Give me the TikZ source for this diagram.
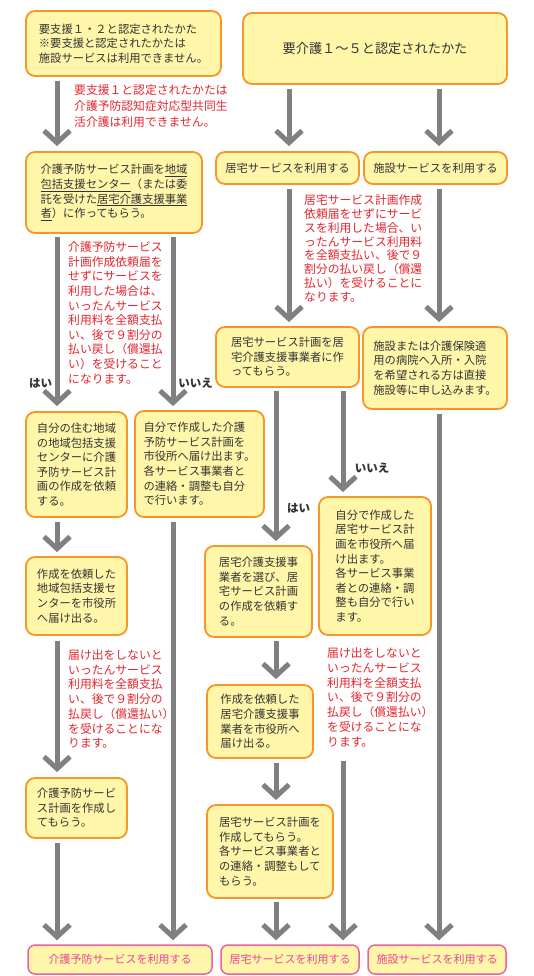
\documentclass[tikz,border=0pt]{standalone}
\usepackage{fontspec}
\setmainfont{Noto Sans CJK JP}
\usetikzlibrary{arrows.meta}
\definecolor{boxfill}{RGB}{255,246,170}
\definecolor{boxline}{RGB}{247,150,40}
\definecolor{pinkline}{RGB}{236,96,160}
\definecolor{pinktext}{RGB}{230,70,150}
\definecolor{redtext}{RGB}{228,38,45}
\definecolor{arrgray}{RGB}{128,128,128}
\definecolor{darktext}{RGB}{51,51,51}
\tikzset{
 box/.style={draw=boxline, line width=1.8pt, fill=boxfill, rounded corners=9pt, align=left, inner sep=0pt, text=darktext, font=\fontsize{11.3}{14.6}\selectfont},
 pinkbox/.style={draw=pinkline, line width=1.5pt, fill=boxfill, rounded corners=7pt, text=pinktext, font=\fontsize{11}{13}\selectfont, inner sep=0pt},
 note/.style={text=redtext, align=left, inner sep=0pt, anchor=north west},
 yn/.style={text=darktext, font=\bfseries\fontsize{11.5}{13}\selectfont, inner sep=0pt},
 arr/.style={draw=arrgray, line width=5pt, -{Straight Barb[length=12pt,width=26pt]}},
}
\begin{document}
\begin{tikzpicture}[x=1pt,y=-1pt]
\fill[white] (0,0) rectangle (534,976);
\useasboundingbox (0,0) rectangle (534,976);
% columns
\coordinate (c1) at (57,0);
\coordinate (c2) at (173,0);
\coordinate (c3) at (276,0);
\coordinate (c4) at (289,0);
\coordinate (c5) at (343,0);
\coordinate (c6) at (439,0);
% boxes
\node[box, minimum width=195pt, minimum height=65pt] (A) at (123.5,43.5) {要支援１・２と認定されたかた\\※要支援と認定されたかたは\\施設サービスは利用できません。};
\node[box, minimum width=264pt, minimum height=71pt, font=\fontsize{13.2}{16}\selectfont] (B) at (375,48.5) {要介護１～５と認定されたかた};
\node[box, minimum width=176pt, minimum height=81pt] (C) at (114,192.5) {介護予防サービス計画を\underline{地域}\\\underline{包括支援センター}（または委\\託を受けた\underline{居宅介護支援事業}\\\underline{者}）に作ってもらう。};
\node[box, minimum width=143pt, minimum height=32pt] (D) at (287.5,168) {居宅サービスを利用する};
\node[box, minimum width=143pt, minimum height=32pt] (E) at (435.5,168) {施設サービスを利用する};
\node[box, minimum width=143pt, minimum height=60pt] (F) at (287.5,357) {居宅サービス計画を居\\宅介護支援事業者に作\\ってもらう。};
\node[box, minimum width=144pt, minimum height=82pt] (G) at (435,368) {施設または介護保険適\\用の病院へ入所・入院\\を希望される方は直接\\施設等に申し込みます。};
\node[box, minimum width=101pt, minimum height=105pt] (H) at (76.5,464.5) {自分の住む地域\\の地域包括支援\\センターに介護\\予防サービス計\\画の作成を依頼\\する。};
\node[box, minimum width=129pt, minimum height=106pt] (I) at (199.5,464) {自分で作成した介護\\予防サービス計画を\\市役所へ届け出ます。\\各サービス事業者と\\の連絡・調整も自分\\で行います。};
\node[box, minimum width=107pt, minimum height=91pt] (J) at (258.5,591.5) {居宅介護支援事\\業者を選び、居\\宅サービス計画\\の作成を依頼す\\る。};
\node[box, minimum width=112pt, minimum height=138pt] (K) at (375,566) {自分で作成した\\居宅サービス計\\画を市役所へ届\\け出ます。\\各サービス事業\\者との連絡・調\\整も自分で行い\\ます。};
\node[box, minimum width=101pt, minimum height=78pt] (L) at (76.5,596) {作成を依頼した\\地域包括支援セ\\ンターを市役所\\へ届け出る。};
\node[box, minimum width=101pt, minimum height=60pt] (M) at (76.5,808) {介護予防サービ\\ス計画を作成し\\てもらう。};
\node[box, minimum width=106pt, minimum height=73pt] (N) at (260,721.5) {作成を依頼した\\居宅介護支援事\\業者を市役所へ\\届け出る。};
\node[box, minimum width=126pt, minimum height=93pt] (O) at (270,851.5) {居宅サービス計画を\\作成してもらう。\\各サービス事業者と\\の連絡・調整もして\\もらう。};
\node[pinkbox, minimum width=184pt, minimum height=29pt] (P1) at (120,959.5) {介護予防サービスを利用する};
\node[pinkbox, minimum width=138pt, minimum height=29pt] (P2) at (290,959.5) {居宅サービスを利用する};
\node[pinkbox, minimum width=138pt, minimum height=29pt] (P3) at (437,959.5) {施設サービスを利用する};
% red notes
\node[note, font=\fontsize{11.8}{15.8}\selectfont] (RA) at (74,84.5) {要支援１と認定されたかたは\\介護予防認知症対応型共同生\\活介護は利用できません。};
\node[note, font=\fontsize{11.8}{14.6}\selectfont] (RC) at (68,241.5) {介護予防サービス\\計画作成依頼届を\\せずにサービスを\\利用した場合は、\\いったんサービス\\利用料を全額支払\\い、後で９割分の\\払い戻し（償還払\\い）を受けること\\になります。};
\node[note, font=\fontsize{11.8}{13.8}\selectfont] (RD) at (304,194.5) {居宅サービス計画作成\\依頼届をせずにサービ\\スを利用した場合、い\\ったんサービス利用料\\を全額支払い、後で９\\割分の払い戻し（償還\\払い）を受けることに\\なります。};
\node[note, font=\fontsize{11.8}{14.7}\selectfont] (RL) at (68,649.5) {届け出をしないと\\いったんサービス\\利用料を全額支払\\い、後で９割分の\\払戻し（償還払い）\\を受けることにな\\ります。};
\node[note, font=\fontsize{11.8}{14.8}\selectfont] (RK) at (327,647.5) {届け出をしないと\\いったんサービス\\利用料を全額支払\\い、後で９割分の\\払戻し（償還払い）\\を受けることにな\\ります。};
% yes/no labels
\node[yn] (y1) at (40.5,383) {はい};
\node[yn] (n1) at (195.5,383) {いいえ};
\node[yn] (y2) at (298.5,508) {はい};
\node[yn] (n2) at (372,468) {いいえ};
% arrows
\draw[arr] ([yshift=-4pt]A.south -| c1) -- ([yshift=5pt]C.north -| c1);
\draw[arr] ([yshift=-4pt]B.south -| c4) -- ([yshift=5pt]D.north -| c4);
\draw[arr] ([yshift=-4pt]B.south -| c6) -- ([yshift=5pt]E.north -| c6);
\draw[arr] ([yshift=-4pt]D.south -| c4) -- ([yshift=4pt]F.north -| c4);
\draw[arr] ([yshift=-4pt]E.south -| c6) -- ([yshift=4pt]G.north -| c6);
\draw[arr] ([yshift=-3pt]C.south -| c1) -- ([yshift=5pt]H.north -| c1);
\draw[arr] ([yshift=-3pt]C.south -| c2) -- ([yshift=4pt]I.north -| c2);
\draw[arr] ([yshift=-3pt]F.south -| c3) -- ([yshift=4pt]J.north -| c3);
\draw[arr] ([yshift=-3pt]F.south -| c5) -- ([yshift=4pt]K.north -| c5);
\draw[arr] ([yshift=-4pt]H.south -| c1) -- ([yshift=4pt]L.north -| c1);
\draw[arr] ([yshift=-5pt]L.south -| c1) -- ([yshift=5pt]M.north -| c1);
\draw[arr] ([yshift=-4pt]M.south -| c1) -- ([yshift=4pt]P1.north -| c1);
\draw[arr] ([yshift=-4pt]I.south -| c2) -- ([yshift=4pt]P1.north -| c2);
\draw[arr] ([yshift=-3pt]J.south -| c3) -- ([yshift=5pt]N.north -| c3);
\draw[arr] ([yshift=-4pt]N.south -| c3) -- ([yshift=4pt]O.north -| c3);
\draw[arr] ([yshift=-3pt]O.south -| c3) -- ([yshift=4pt]P2.north -| c3);
\draw[arr] ([yshift=-14pt]RK.south -| c5) -- ([yshift=4pt]P2.north -| c5);
\draw[arr] ([yshift=-4pt]G.south -| c6) -- ([yshift=4pt]P3.north -| c6);
\end{tikzpicture}
\end{document}
